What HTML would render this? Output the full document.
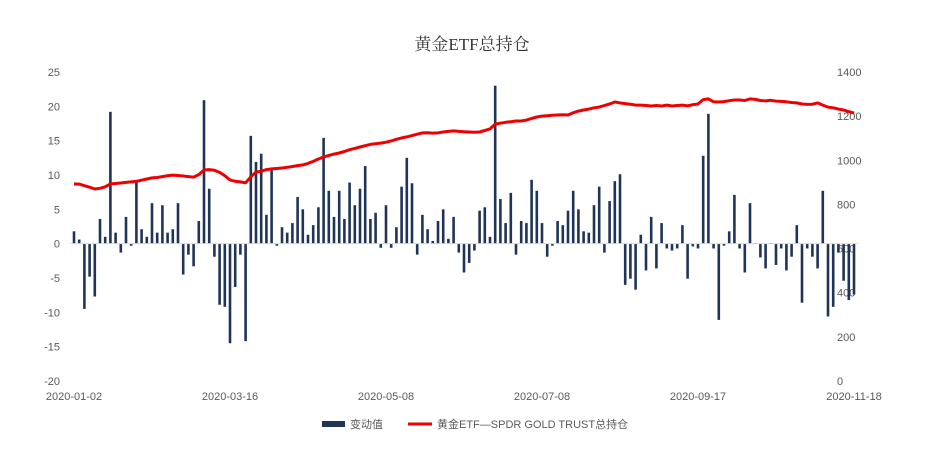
<!DOCTYPE html>
<html><head><meta charset="utf-8"><style>
body{margin:0;background:#fff;}
svg{display:block;font-family:"Liberation Sans","Noto Sans CJK SC",sans-serif;}
</style></head><body>
<svg id="chart" width="945" height="474">
<text x="472" y="50" text-anchor="middle" font-size="17" fill="#333" font-family="'Liberation Serif','Noto Serif CJK SC',serif">黄金ETF总持仓</text>
<g id="yl"></g>
<g id="yr"></g>
<g id="bars"></g>
<line x1="70" x2="858" id="zero" stroke="#d9d9d9" stroke-width="1"/>
<path id="line" fill="none" stroke="#ee0000" stroke-width="3" stroke-linejoin="round"/>
<g id="xl"></g>
<g>
<g><rect x="322" y="421" width="23" height="6" fill="#1f3457"/><text x="350" y="428" font-size="11" fill="#595959">变动值</text></g>
<g><line x1="408" x2="432" y1="424" y2="424" stroke="#ee0000" stroke-width="3"/><text x="437" y="428" font-size="11" fill="#595959">黄金ETF—SPDR GOLD TRUST总持仓</text></g>
</g>
</svg>
<script>
const changes=[1.8,0.6,-9.5,-4.8,-7.7,3.6,1.0,19.2,1.6,-1.3,3.9,-0.3,9.1,2.1,1.0,5.9,1.6,5.6,1.6,2.1,5.9,-4.5,-1.6,-3.3,3.3,20.9,8.0,-1.9,-8.9,-9.2,-14.5,-6.3,-1.6,-14.2,15.7,11.9,13.1,4.2,10.7,-0.3,2.4,1.6,3.0,6.8,5.0,1.3,2.7,5.3,15.4,7.7,3.9,7.7,3.6,8.9,5.6,8.0,11.3,3.6,4.5,-0.6,5.6,-0.6,2.4,8.3,12.5,8.8,-1.6,4.2,2.1,0.4,3.3,5.0,0.7,3.9,-1.3,-4.2,-2.8,-1.0,4.8,5.3,1.0,23.0,6.5,3.0,7.4,-1.6,3.3,3.0,9.3,7.7,3.0,-1.9,-0.3,3.3,2.7,4.8,7.7,5.0,1.8,1.6,5.6,8.3,-1.3,6.2,9.1,10.1,-6.0,-5.1,-6.7,1.3,-3.9,3.9,-3.6,3.0,-0.7,-1.0,-0.7,2.7,-5.1,-0.4,-0.7,12.8,18.9,-0.7,-11.1,-0.3,1.8,7.1,-0.7,-4.2,5.9,0.1,-2.0,-3.6,0.1,-3.1,-0.7,-3.9,-1.9,2.7,-8.6,-0.7,-1.9,-3.6,7.7,-10.6,-9.2,-1.3,-5.4,-8.2,-7.4];
const holdings=[893,892,885,878,870,873,880,893,895,897,900,902,905,910,915,920,922,926,930,933,931,929,926,924,935,956,958,955,945,930,911,905,902,898,925,947,950,958,961,963,965,968,972,976,979,986,995,1006,1015,1022,1028,1033,1040,1048,1054,1060,1066,1072,1075,1078,1082,1088,1095,1101,1106,1112,1118,1124,1125,1123,1124,1128,1131,1133,1131,1129,1128,1127,1128,1135,1142,1164,1168,1172,1175,1178,1178,1182,1190,1196,1200,1202,1204,1205,1206,1205,1215,1223,1228,1232,1238,1241,1248,1255,1264,1260,1257,1254,1250,1250,1248,1246,1248,1246,1250,1246,1248,1250,1247,1252,1255,1275,1278,1265,1264,1266,1270,1273,1273,1271,1278,1276,1271,1269,1272,1268,1267,1265,1262,1260,1255,1253,1254,1260,1250,1241,1238,1232,1228,1220,1214];
const xLabels=["2020-01-02","2020-03-16","2020-05-08","2020-07-08","2020-09-17","2020-11-18"];
const leftTicks=[25,20,15,10,5,0,-5,-10,-15,-20];
const rightTicks=[1400,1200,1000,800,600,400,200,0];
const NS="http://www.w3.org/2000/svg";
const xStart=74,xEnd=854,yTop=72,yBot=381;
const n=changes.length;
const xs=i=>xStart+i*(xEnd-xStart)/(n-1);
const yL=v=>yTop+(25-v)*(yBot-yTop)/45;
const yR=v=>yBot-v*(yBot-yTop)/1400;
function mk(t,p,a){const e=document.createElementNS(NS,t);for(const k in a)e.setAttribute(k,a[k]);p.appendChild(e);return e;}
const gl=document.getElementById('yl');
leftTicks.forEach(v=>{const t=mk('text',gl,{x:60,y:yL(v)+4,'text-anchor':'end','font-size':11,fill:'#595959'});t.textContent=v;

});
const gr=document.getElementById('yr');
rightTicks.forEach(v=>{const t=mk('text',gr,{x:837,y:yR(v)+4,'font-size':11,fill:'#595959'});t.textContent=v;

});
const gb=document.getElementById('bars');
changes.forEach((v,i)=>{const y=yL(Math.max(v,0)),h=Math.abs(yL(v)-yL(0));const r=mk('rect',gb,{x:xs(i)-1.3,y:y,width:2.6,height:Math.max(h,0.5),fill:'#1f3457'});

});
const z=document.getElementById('zero');z.setAttribute('y1',yL(0));z.setAttribute('y2',yL(0));
document.getElementById('line').setAttribute('d',holdings.map((v,i)=>(i?'L':'M')+xs(i).toFixed(1)+','+yR(v).toFixed(1)).join(''));
const gx=document.getElementById('xl');
xLabels.forEach((s,k)=>{const t=mk('text',gx,{x:xs(k*30),y:400,'text-anchor':'middle','font-size':11,fill:'#595959'});t.textContent=s;

});
</script>
</body></html>
